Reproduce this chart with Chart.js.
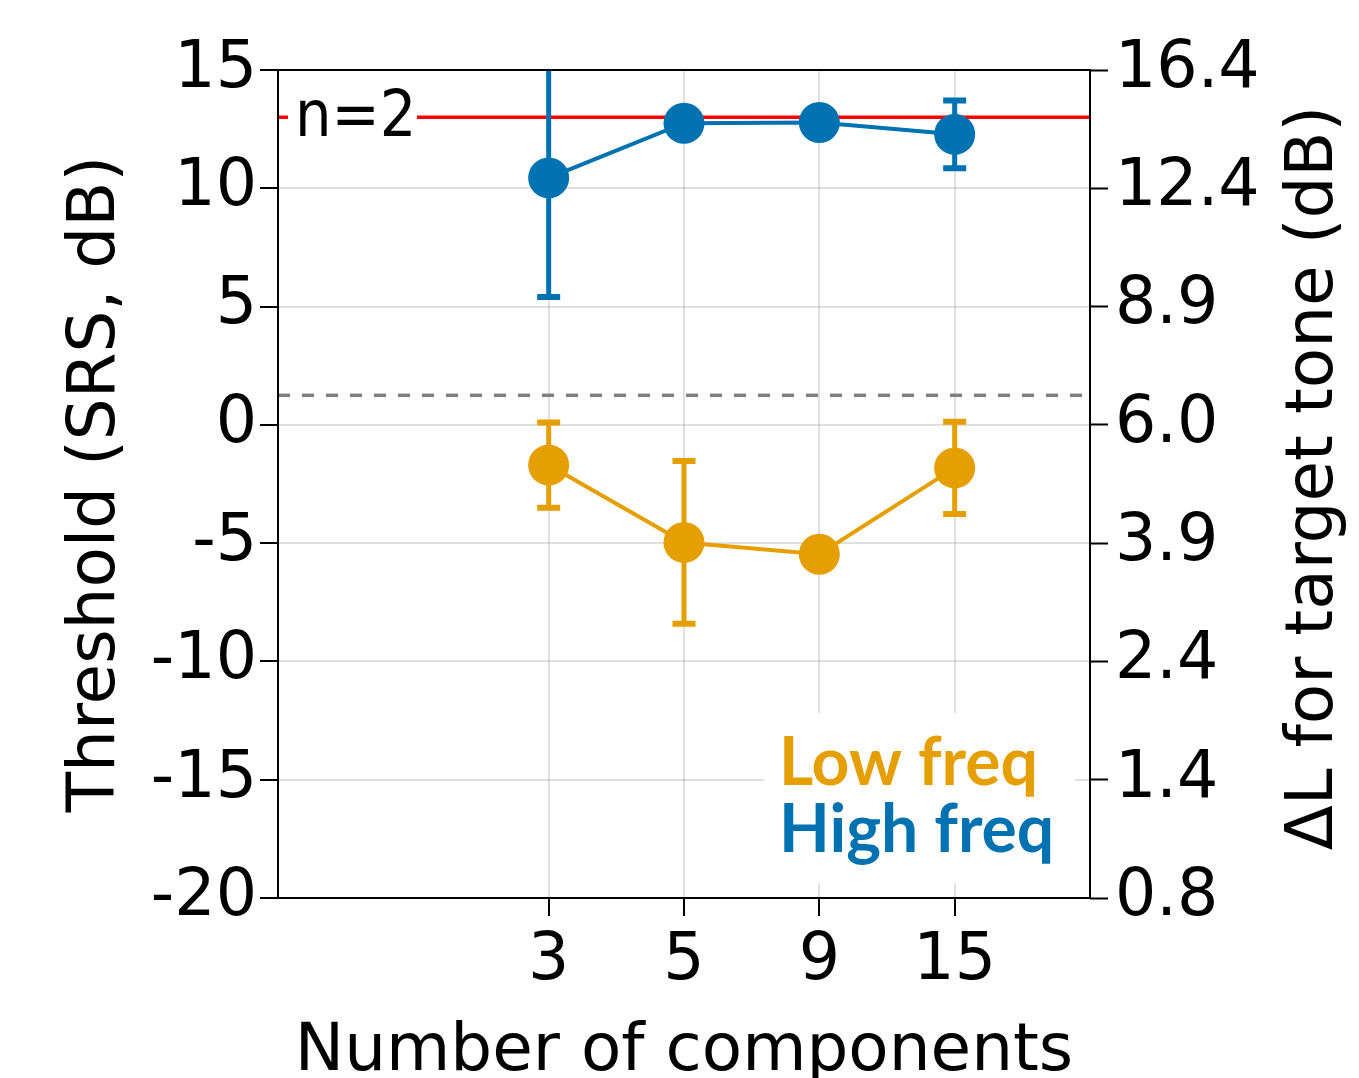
<!DOCTYPE html>
<html>
<head>
<meta charset="utf-8">
<script src="https://cdn.jsdelivr.net/npm/chart.js@4"></script>
<style>
  html, body { margin: 0; padding: 0; background: #ffffff; }
  #wrap { width: 1359px; height: 1078px; }
</style>
</head>
<body>
<div id="wrap"><canvas id="c" width="1359" height="1078"></canvas></div>
<script>
// ---- data ----
const xLabels = ['3', '5', '9', '15'];
const xPositions = [0, 1, 2, 3];
const lowFreqMean = [-1.70, -4.97, -5.47, -1.82];
const lowFreqErr = [1.80, 3.44, 0, 1.95];
const highFreqMean = [10.44, 12.75, 12.78, 12.28];
const highFreqErr = [5.04, 0, 0, 1.43];
const rightTickLabels = ['0.8', '1.4', '2.4', '3.9', '6.0', '8.9', '12.4', '16.4'];
const n2Level = 13.0;
const dashedLevel = 1.25;
const xRange = [-2, 4];
const yRange = [-20, 15];

const BLUE = '#0072B2';
const ORANGE = '#E69F00';
const GRID = 'rgba(0,0,0,0.12)';
const FONT = "'DejaVu Sans', sans-serif";

const errMap = { 0: highFreqErr, 1: lowFreqErr };
const meanMap = { 0: highFreqMean, 1: lowFreqMean };
const colMap = { 0: BLUE, 1: ORANGE };

const errorBars = {
  id: 'errorBars',
  beforeDatasetDraw(chart, args) {
    const i = args.index;
    if (!(i in errMap)) return;
    const { ctx, chartArea: a, scales: { x, y } } = chart;
    ctx.save();
    ctx.beginPath();
    ctx.rect(a.left, a.top, a.right - a.left, a.bottom - a.top);
    ctx.clip();
    ctx.strokeStyle = colMap[i];
    ctx.lineCap = 'butt';
    xPositions.forEach((xv, k) => {
      const e = errMap[i][k];
      if (!e) return;
      const px = x.getPixelForValue(xv);
      const top = y.getPixelForValue(meanMap[i][k] + e);
      const bot = y.getPixelForValue(meanMap[i][k] - e);
      ctx.lineWidth = 5;
      ctx.beginPath();
      ctx.moveTo(px, top); ctx.lineTo(px, bot);
      ctx.stroke();
      ctx.lineWidth = 6;
      ctx.beginPath();
      ctx.moveTo(px - 11.5, top); ctx.lineTo(px + 11.5, top);
      ctx.moveTo(px - 11.5, bot); ctx.lineTo(px + 11.5, bot);
      ctx.stroke();
    });
    ctx.restore();
  }
};

const annotations = {
  id: 'annotations',
  afterDatasetsDraw(chart) {
    const { ctx, scales: { y } } = chart;
    const yy = y.getPixelForValue(n2Level);
    ctx.save();
    ctx.fillStyle = '#ffffff';
    ctx.fillRect(288, yy - 26, 129, 50);
    ctx.fillStyle = '#000000';
    ctx.font = "64px 'DejaVu Sans Condensed', 'DejaVu Sans', sans-serif";
    ctx.textAlign = 'left';
    ctx.textBaseline = 'alphabetic';
    ctx.fillText('n=2', 295, 136);
    ctx.restore();
  },
  afterDraw(chart) {
    const { ctx, chartArea: a } = chart;
    ctx.save();
    // legend
    ctx.fillStyle = '#ffffff';
    ctx.fillRect(764, 713, 311, 170);
    ctx.font = "bold 66px 'Lato', sans-serif";
    ctx.textAlign = 'left';
    ctx.textBaseline = 'alphabetic';
    ctx.fillStyle = ORANGE;
    ctx.fillText('Low freq', 779, 785);
    ctx.fillStyle = BLUE;
    ctx.fillText('High freq', 779, 852);
    // frame
    ctx.strokeStyle = '#000000';
    ctx.lineWidth = 2;
    ctx.strokeRect(a.left, a.top, a.right - a.left, a.bottom - a.top);
    // right title
    ctx.fillStyle = '#000000';
    ctx.font = '66px ' + FONT;
    ctx.textAlign = 'center';
    ctx.translate(1332, 478);
    ctx.rotate(-Math.PI / 2);
    ctx.fillText('ΔL for target tone (dB)', 0, 0);
    ctx.restore();
  }
};

const tickFont = { family: FONT, size: 65, lineHeight: 1.2 };

new Chart(document.getElementById('c'), {
  type: 'line',
  data: {
    datasets: [
      {
        label: 'High freq',
        data: xPositions.map((xv, k) => ({ x: xv, y: highFreqMean[k] })),
        borderColor: BLUE, backgroundColor: BLUE,
        borderWidth: 4, pointRadius: 20.5, pointBorderWidth: 0,
        pointHoverRadius: 20.5, yAxisID: 'y'
      },
      {
        label: 'Low freq',
        data: xPositions.map((xv, k) => ({ x: xv, y: lowFreqMean[k] })),
        borderColor: ORANGE, backgroundColor: ORANGE,
        borderWidth: 4, pointRadius: 20.5, pointBorderWidth: 0,
        pointHoverRadius: 20.5, yAxisID: 'y'
      },
      {
        label: 'n=2',
        data: [{ x: xRange[0], y: n2Level }, { x: xRange[1], y: n2Level }],
        borderColor: '#ff0000', borderWidth: 3.5, pointRadius: 0, yAxisID: 'y'
      },
      {
        label: 'chance',
        data: [{ x: xRange[0], y: dashedLevel }, { x: xRange[1], y: dashedLevel }],
        borderColor: '#808080', borderWidth: 3.5, borderDash: [12, 12],
        pointRadius: 0, yAxisID: 'y'
      }
    ]
  },
  options: {
    responsive: false,
    animation: false,
    events: [],
    layout: { padding: { top: 70, left: 0, right: 0, bottom: 0 } },
    plugins: { legend: { display: false }, tooltip: { enabled: false } },
    scales: {
      x: {
        type: 'linear', min: xRange[0], max: xRange[1],
        afterBuildTicks(s) { s.ticks = xPositions.map(v => ({ value: v })); },
        afterFit(s) { s.height = 180; },
        ticks: {
          font: tickFont, color: '#000', padding: 7, maxRotation: 0, autoSkip: false,
          callback: (v) => xLabels[xPositions.indexOf(v)]
        },
        grid: { color: GRID, lineWidth: 2, tickColor: '#000', tickWidth: 2, tickLength: 18 },
        border: { display: false },
        title: {
          display: true, text: 'Number of components', color: '#000',
          font: { family: FONT, size: 66, lineHeight: 0.76 }, padding: 0
        }
      },
      y: {
        type: 'linear', position: 'left', min: yRange[0], max: yRange[1],
        afterFit(s) { s.width = 278; },
        ticks: { stepSize: 5, font: tickFont, color: '#000', padding: 3 },
        grid: { color: GRID, lineWidth: 2, tickColor: '#000', tickWidth: 2, tickLength: 18 },
        border: { display: false },
        title: {
          display: true, text: 'Threshold (SRS, dB)', color: '#000',
          font: { family: FONT, size: 66, lineHeight: 1.2 }, padding: { top: 57, bottom: 0 }
        }
      },
      y2: {
        type: 'linear', position: 'right', min: yRange[0], max: yRange[1],
        afterFit(s) { s.width = 269; },
        ticks: {
          stepSize: 5, font: tickFont, color: '#000', padding: 7,
          callback: (v, i) => rightTickLabels[i]
        },
        grid: { drawOnChartArea: false, tickColor: '#000', tickWidth: 2, tickLength: 18 },
        border: { display: false }
      }
    }
  },
  plugins: [errorBars, annotations]
});
</script>
</body>
</html>
